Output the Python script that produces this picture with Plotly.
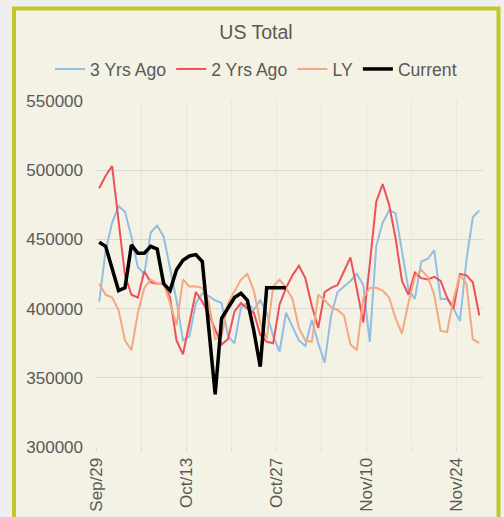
import pandas as pd
import plotly.graph_objects as go

# Daily categories (Sep 29 .. Nov 27)
dates = pd.date_range("2019-09-29", periods=60, freq="D")

three_yrs_ago = [405000, 442000, 462000, 474000, 470000, 452000, 430000, 425000, 455000, 460000,
                 452000, 430000, 406000, 377000, 380000, 404000, 411000, 409000, 406000, 404000,
                 380000, 375000, 401000, 404000, 399000, 406000, 397000, 380000, 369000, 397000,
                 387000, 377000, 373000, 392000, 375000, 361000, 395000, 412000, 416000, 420000,
                 425000, 417000, 376000, 445000, 462000, 471000, 469000, 443000, 414000, 407000,
                 434000, 436000, 442000, 407000, 407000, 400000, 391000, 435000, 466000, 471000]

two_yrs_ago = [487000, 496000, 503000, 465000, 424000, 410000, 408000, 427000, 419000, 418000,
               418000, 408000, 377000, 367000, 390000, 412000, 405000, 396000, 385000, 374000,
               378000, 398000, 404000, 400000, 397000, 381000, 376000, 375000, 403000, 415000,
               424000, 431000, 422000, 402000, 386000, 412000, 415000, 417000, 427000, 437000,
               414000, 390000, 432000, 477000, 490000, 475000, 451000, 420000, 410000, 426000,
               422000, 421000, 423000, 420000, 408000, 400000, 425000, 424000, 419000, 395000]

last_year = [418000, 410000, 408000, 399000, 377000, 370000, 397000, 415000, 421000, 418000,
             418000, 404000, 388000, 421000, 416000, 416000, 415000, 405000, 378000, 380000,
             404000, 412000, 421000, 425000, 413000, 390000, 378000, 416000, 421000, 415000,
             407000, 386000, 377000, 376000, 410000, 406000, 401000, 399000, 395000, 374000,
             370000, 408000, 415000, 415000, 413000, 408000, 393000, 382000, 404000, 423000,
             428000, 423000, 410000, 384000, 383000, 407000, 424000, 418000, 378000, 375000]

current = [448000, 445000, 429000, 413000, 415000, 446000, 440000, 440000, 445000, 443000,
           418000, 413000, 428000, 435000, 438000, 439000, 434000, 386000, 338000, 393000,
           401000, 408000, 411000, 406000, 384000, 358000, 415000, 415000, 415000, 415000]

tick_dates = pd.date_range("2019-09-29", periods=9, freq="7D")
tick_text = ["Sep/29", "", "Oct/13", "", "Oct/27", "", "Nov/10", "", "Nov/24"]
y_ticks = [300000, 350000, 400000, 450000, 500000, 550000]

# points sit in the middle of each day, as in the original
x_mid = dates + pd.Timedelta(hours=12)

FONT = "Liberation Sans, Arial, sans-serif"
TXT = "#595959"
W = 504

fig = go.Figure()
fig.add_trace(go.Scatter(x=x_mid, y=three_yrs_ago, name="3 Yrs Ago", mode="lines",
                         line=dict(color="#93bde2", width=2)))
fig.add_trace(go.Scatter(x=x_mid, y=two_yrs_ago, name="2 Yrs Ago", mode="lines",
                         line=dict(color="#ef5058", width=2)))
fig.add_trace(go.Scatter(x=x_mid, y=last_year, name="LY", mode="lines",
                         line=dict(color="#f3a883", width=2)))
fig.add_trace(go.Scatter(x=x_mid[:len(current)], y=current, name="Current", mode="lines",
                         line=dict(color="#000000", width=3.5)))

fig.update_layout(
    width=W, height=517,
    margin=dict(l=0, r=0, t=101, b=70, autoexpand=False),
    paper_bgcolor="#efefef",
    plot_bgcolor="rgba(0,0,0,0)",
    font=dict(family=FONT, size=17, color=TXT),
    title=dict(text="US Total", x=0.508, xref="container", xanchor="center",
               y=0.938, yref="container", yanchor="middle",
               font=dict(family=FONT, size=19.5, color=TXT)),
    legend=dict(orientation="h", xref="paper", x=0.508, xanchor="center",
                yref="container", y=0.8665, yanchor="middle",
                bgcolor="rgba(0,0,0,0)", font=dict(size=17.6, color=TXT),
                itemwidth=30, tracegroupgap=0),
    showlegend=True,
    shapes=[dict(type="rect", xref="paper", yref="paper",
                 x0=14 / W, x1=498.5 / W, y0=-0.27, y1=1.2673,
                 line=dict(color="#c2c62a", width=4), fillcolor="#f3f2e4",
                 layer="below")],
)

fig.update_xaxes(
    domain=[96 / W, 482.5 / W],
    range=[dates[0], dates[-1] + pd.Timedelta(days=1)],
    tickvals=tick_dates, ticktext=tick_text, tickangle=-90,
    showgrid=True, gridcolor="#e6e6da", gridwidth=1,
    ticks="outside", ticklen=3, tickcolor="#d4d4d4",
    showline=False, zeroline=False, automargin=False,
    tickfont=dict(size=17, color=TXT),
)
fig.update_yaxes(
    range=[300000, 550000], tickvals=y_ticks, tickformat="d",
    showgrid=True, gridcolor="#d9d9d9", gridwidth=1,
    zeroline=False, showline=False, ticks="", automargin=False,
    ticklabelstandoff=12,
    tickfont=dict(size=17, color=TXT),
)

fig.write_html("out.html")
